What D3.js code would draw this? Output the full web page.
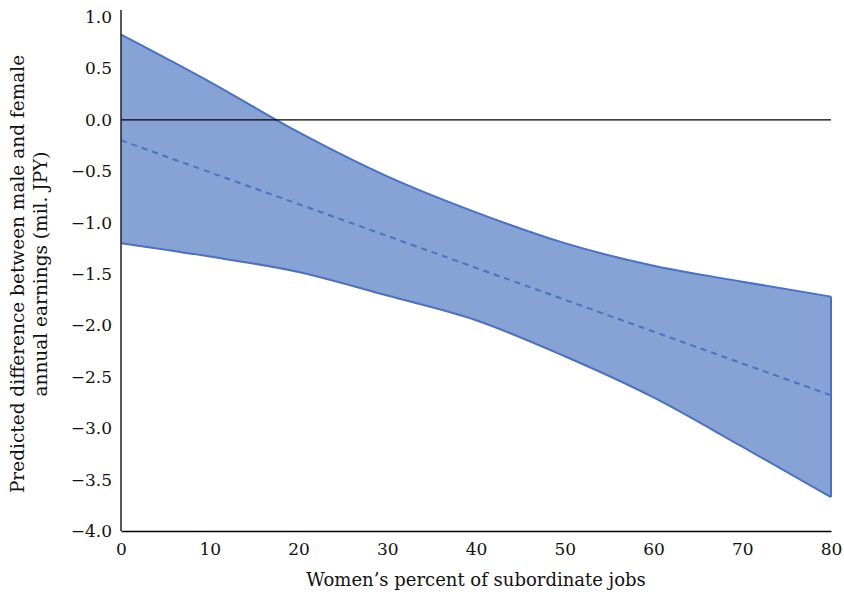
<!DOCTYPE html>
<html>
<head>
<meta charset="utf-8">
<script src="https://cdn.jsdelivr.net/npm/d3@7"></script>
<style>
  body { margin: 0; background: #fff; }
  svg text { font-family: "DejaVu Serif", "Liberation Serif", serif !important; fill: #111; }
</style>
</head>
<body>
<div id="grafico"></div>
<script>
// valores
const pct = [0, 10, 20, 30, 40, 50, 60, 70, 80];
const upper = [0.83, 0.37, -0.12, -0.55, -0.9, -1.2, -1.42, -1.575, -1.72];
const lower = [-1.2, -1.33, -1.48, -1.71, -1.95, -2.3, -2.7, -3.18, -3.67];
const mean = [-0.2, -0.51, -0.82, -1.13, -1.44, -1.75, -2.06, -2.37, -2.68];
const xTicks = [0, 10, 20, 30, 40, 50, 60, 70, 80];
const yTicks = [1.0, 0.5, 0.0, -0.5, -1.0, -1.5, -2.0, -2.5, -3.0, -3.5, -4.0];

const width = 844;
const height = 594;
const margin = { top: 17, right: 13, bottom: 63, left: 121 };
const tickFont = "17px";

const data = pct.map((p, i) => ({ p, hi: upper[i], lo: lower[i], m: mean[i] }));

const svg = d3
  .select("#grafico")
  .append("svg")
  .attr("width", width)
  .attr("height", height);

const x = d3
  .scaleLinear()
  .domain([0, 80])
  .range([margin.left, width - margin.right]);

const y = d3
  .scaleLinear()
  .domain([-4, 1])
  .range([height - margin.bottom, margin.top]);

// banda de confianza
svg
  .append("path")
  .datum(data)
  .attr("fill", "#87a2d4")
  .attr("stroke", "none")
  .attr(
    "d",
    d3
      .area()
      .x((d) => x(d.p))
      .y0((d) => y(d.lo))
      .y1((d) => y(d.hi))
      .curve(d3.curveMonotoneX)
  );

const lineHi = d3.line().x((d) => x(d.p)).y((d) => y(d.hi)).curve(d3.curveMonotoneX);
const lineLo = d3.line().x((d) => x(d.p)).y((d) => y(d.lo)).curve(d3.curveMonotoneX);

[lineHi, lineLo].forEach((l) => {
  svg
    .append("path")
    .datum(data)
    .attr("fill", "none")
    .attr("stroke", "#4a72c0")
    .attr("stroke-width", 2)
    .attr("d", l);
});

// borde derecho de la banda
svg
  .append("line")
  .attr("x1", x(80))
  .attr("x2", x(80))
  .attr("y1", y(upper[upper.length - 1]))
  .attr("y2", y(lower[lower.length - 1]))
  .attr("stroke", "#4a72c0")
  .attr("stroke-width", 2);

// estimacion (linea discontinua)
svg
  .append("path")
  .datum(data)
  .attr("fill", "none")
  .attr("stroke", "#4a72c0")
  .attr("stroke-width", 2)
  .attr("stroke-dasharray", "6,5")
  .attr("d", d3.line().x((d) => x(d.p)).y((d) => y(d.m)));

// linea del cero
svg
  .append("line")
  .attr("x1", x(0))
  .attr("x2", x(80))
  .attr("y1", y(0))
  .attr("y2", y(0))
  .attr("stroke", "#000")
  .attr("stroke-width", 1.3);

// Eje X
const gx = svg
  .append("g")
  .attr("transform", `translate(0,${y(-4)})`)
  .call(
    d3.axisBottom(x)
      .tickValues(xTicks)
      .tickSize(0)
      .tickPadding(12)
      .tickFormat(d3.format("d"))
  );
gx.select(".domain").attr("stroke", "#000").attr("stroke-width", 1.5);
gx.selectAll("text").style("font-size", tickFont);

// Eje Y
const gy = svg
  .append("g")
  .attr("transform", `translate(${x(0)},0)`)
  .call(
    d3.axisLeft(y)
      .tickValues(yTicks)
      .tickSize(0)
      .tickPadding(9)
      .tickFormat((d) => d3.format(".1f")(d).replace("-", "\u2212"))
  );
gy.select(".domain").remove();
gy.selectAll("text").style("font-size", tickFont);
svg
  .append("line")
  .attr("x1", x(0))
  .attr("x2", x(0))
  .attr("y1", 10)
  .attr("y2", y(-4))
  .attr("stroke", "#222")
  .attr("stroke-width", 1.5);

// Titulos de ejes
svg
  .append("text")
  .attr("x", (x(0) + x(80)) / 2)
  .attr("y", 586)
  .attr("text-anchor", "middle")
  .style("font-size", "18px")
  .text("Women\u2019s percent of subordinate jobs");

const yl = svg
  .append("text")
  .attr("transform", `translate(24,${(y(1) + y(-4)) / 2}) rotate(-90)`)
  .attr("text-anchor", "middle")
  .style("font-size", "18.5px");
yl.append("tspan").attr("x", 0).attr("dy", 0).text("Predicted difference between male and female");
yl.append("tspan").attr("x", 0).attr("dy", 23).text("annual earnings (mil. JPY)");
</script>
</body>
</html>
